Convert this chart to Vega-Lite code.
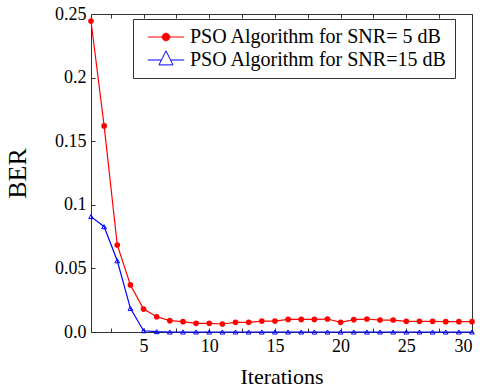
{
  "$schema": "https://vega.github.io/schema/vega-lite/v6.json",
  "autosize": {"type": "none"},
  "padding": {"left": 91, "top": 14, "right": 8, "bottom": 56},
  "width": 381,
  "height": 318,
  "background": "white",
  "config": {
    "view": {"stroke": "#333", "strokeWidth": 1},
    "font": "Liberation Serif",
    "axis": {
      "labelFont": "Liberation Serif",
      "labelFontSize": 18,
      "labelColor": "black",
      "titleFont": "Liberation Serif",
      "titleFontWeight": "normal",
      "titleColor": "black",
      "grid": false,
      "domainColor": "#333",
      "tickColor": "#333",
      "tickSize": -4,
      "labelPadding": 9
    },
    "legend": {"labelFont": "Liberation Serif"}
  },
  "data": {
    "values": [
      {"iteration": 1, "ber": 0.2445, "series": "PSO Algorithm for SNR= 5 dB"},
      {"iteration": 2, "ber": 0.162, "series": "PSO Algorithm for SNR= 5 dB"},
      {"iteration": 3, "ber": 0.0684, "series": "PSO Algorithm for SNR= 5 dB"},
      {"iteration": 4, "ber": 0.037, "series": "PSO Algorithm for SNR= 5 dB"},
      {"iteration": 5, "ber": 0.018, "series": "PSO Algorithm for SNR= 5 dB"},
      {"iteration": 6, "ber": 0.012, "series": "PSO Algorithm for SNR= 5 dB"},
      {"iteration": 7, "ber": 0.0089, "series": "PSO Algorithm for SNR= 5 dB"},
      {"iteration": 8, "ber": 0.0081, "series": "PSO Algorithm for SNR= 5 dB"},
      {"iteration": 9, "ber": 0.0068, "series": "PSO Algorithm for SNR= 5 dB"},
      {"iteration": 10, "ber": 0.0068, "series": "PSO Algorithm for SNR= 5 dB"},
      {"iteration": 11, "ber": 0.0063, "series": "PSO Algorithm for SNR= 5 dB"},
      {"iteration": 12, "ber": 0.0076, "series": "PSO Algorithm for SNR= 5 dB"},
      {"iteration": 13, "ber": 0.0076, "series": "PSO Algorithm for SNR= 5 dB"},
      {"iteration": 14, "ber": 0.0086, "series": "PSO Algorithm for SNR= 5 dB"},
      {"iteration": 15, "ber": 0.0086, "series": "PSO Algorithm for SNR= 5 dB"},
      {"iteration": 16, "ber": 0.0099, "series": "PSO Algorithm for SNR= 5 dB"},
      {"iteration": 17, "ber": 0.0099, "series": "PSO Algorithm for SNR= 5 dB"},
      {"iteration": 18, "ber": 0.0099, "series": "PSO Algorithm for SNR= 5 dB"},
      {"iteration": 19, "ber": 0.0102, "series": "PSO Algorithm for SNR= 5 dB"},
      {"iteration": 20, "ber": 0.0076, "series": "PSO Algorithm for SNR= 5 dB"},
      {"iteration": 21, "ber": 0.0097, "series": "PSO Algorithm for SNR= 5 dB"},
      {"iteration": 22, "ber": 0.0102, "series": "PSO Algorithm for SNR= 5 dB"},
      {"iteration": 23, "ber": 0.0094, "series": "PSO Algorithm for SNR= 5 dB"},
      {"iteration": 24, "ber": 0.0094, "series": "PSO Algorithm for SNR= 5 dB"},
      {"iteration": 25, "ber": 0.0084, "series": "PSO Algorithm for SNR= 5 dB"},
      {"iteration": 26, "ber": 0.0084, "series": "PSO Algorithm for SNR= 5 dB"},
      {"iteration": 27, "ber": 0.0084, "series": "PSO Algorithm for SNR= 5 dB"},
      {"iteration": 28, "ber": 0.0081, "series": "PSO Algorithm for SNR= 5 dB"},
      {"iteration": 29, "ber": 0.0081, "series": "PSO Algorithm for SNR= 5 dB"},
      {"iteration": 30, "ber": 0.0081, "series": "PSO Algorithm for SNR= 5 dB"},
      {"iteration": 1, "ber": 0.0907, "series": "PSO Algorithm for SNR=15 dB"},
      {"iteration": 2, "ber": 0.0828, "series": "PSO Algorithm for SNR=15 dB"},
      {"iteration": 3, "ber": 0.056, "series": "PSO Algorithm for SNR=15 dB"},
      {"iteration": 4, "ber": 0.0186, "series": "PSO Algorithm for SNR=15 dB"},
      {"iteration": 5, "ber": 0.001, "series": "PSO Algorithm for SNR=15 dB"},
      {"iteration": 6, "ber": 0.0003, "series": "PSO Algorithm for SNR=15 dB"},
      {"iteration": 7, "ber": 0, "series": "PSO Algorithm for SNR=15 dB"},
      {"iteration": 8, "ber": 0, "series": "PSO Algorithm for SNR=15 dB"},
      {"iteration": 9, "ber": 0, "series": "PSO Algorithm for SNR=15 dB"},
      {"iteration": 10, "ber": 0, "series": "PSO Algorithm for SNR=15 dB"},
      {"iteration": 11, "ber": 0, "series": "PSO Algorithm for SNR=15 dB"},
      {"iteration": 12, "ber": 0, "series": "PSO Algorithm for SNR=15 dB"},
      {"iteration": 13, "ber": 0, "series": "PSO Algorithm for SNR=15 dB"},
      {"iteration": 14, "ber": 0, "series": "PSO Algorithm for SNR=15 dB"},
      {"iteration": 15, "ber": 0, "series": "PSO Algorithm for SNR=15 dB"},
      {"iteration": 16, "ber": 0, "series": "PSO Algorithm for SNR=15 dB"},
      {"iteration": 17, "ber": 0, "series": "PSO Algorithm for SNR=15 dB"},
      {"iteration": 18, "ber": 0, "series": "PSO Algorithm for SNR=15 dB"},
      {"iteration": 19, "ber": 0, "series": "PSO Algorithm for SNR=15 dB"},
      {"iteration": 20, "ber": 0, "series": "PSO Algorithm for SNR=15 dB"},
      {"iteration": 21, "ber": 0, "series": "PSO Algorithm for SNR=15 dB"},
      {"iteration": 22, "ber": 0, "series": "PSO Algorithm for SNR=15 dB"},
      {"iteration": 23, "ber": 0, "series": "PSO Algorithm for SNR=15 dB"},
      {"iteration": 24, "ber": 0, "series": "PSO Algorithm for SNR=15 dB"},
      {"iteration": 25, "ber": 0, "series": "PSO Algorithm for SNR=15 dB"},
      {"iteration": 26, "ber": 0, "series": "PSO Algorithm for SNR=15 dB"},
      {"iteration": 27, "ber": 0, "series": "PSO Algorithm for SNR=15 dB"},
      {"iteration": 28, "ber": 0, "series": "PSO Algorithm for SNR=15 dB"},
      {"iteration": 29, "ber": 0, "series": "PSO Algorithm for SNR=15 dB"},
      {"iteration": 30, "ber": 0, "series": "PSO Algorithm for SNR=15 dB"}
    ]
  },
  "resolve": {"axis": {"x": "independent"}},
  "layer": [
    {
      "mark": {"type": "line", "strokeWidth": 1.2, "clip": false},
      "encoding": {
        "x": {
          "field": "iteration", "type": "quantitative",
          "scale": {"domain": [1, 30], "nice": false, "zero": false},
          "axis": {
            "title": "Iterations", "titleFontSize": 22, "titlePadding": 11,
            "values": [2.5, 5, 7.5, 10, 12.5, 15, 17.5, 20, 22.5, 25, 27.5, 30],
            "labelExpr": "datum.value % 5 == 0 ? format(datum.value, 'd') : ''"
          }
        },
        "y": {
          "field": "ber", "type": "quantitative",
          "scale": {"domain": [0, 0.25], "nice": false},
          "axis": {
            "title": "BER", "titleFontSize": 26, "titlePadding": 24,
            "values": [0, 0.05, 0.1, 0.15, 0.2, 0.25],
            "labelExpr": "datum.value == 0 ? '0.0' : format(datum.value, '~g')"
          }
        },
        "color": {
          "field": "series", "type": "nominal",
          "scale": {"domain": ["PSO Algorithm for SNR= 5 dB", "PSO Algorithm for SNR=15 dB"], "range": ["#ff0000", "#0000ff"]},
          "legend": {
            "title": null,
            "orient": "none",
            "legendX": 42,
            "legendY": 5,
            "strokeColor": "#333",
            "fillColor": "white",
            "padding": 8,
            "labelFont": "Liberation Serif",
            "labelFontSize": 20,
            "labelColor": "black",
            "labelLimit": 1000,
            "symbolSize": 196,
            "symbolOffset": 15,
            "labelOffset": 14,
            "rowPadding": 1,
            "encode": {
              "legend": {
                "update": {
                  "width": {"value": 319}
                }
              },
              "symbols": {
                "update": {
                  "shape": {"signal": "datum.value === 'PSO Algorithm for SNR= 5 dB' ? 'M-2.6,0H2.6M0.55,0A0.55,0.55 0 1 1 -0.55,0A0.55,0.55 0 1 1 0.55,0Z' : 'M-2.6,0H-0.65M0.65,0H2.6M0,-1.3L1,0.7L-1,0.7Z'"},
                  "fill": {"signal": "datum.value === 'PSO Algorithm for SNR= 5 dB' ? '#ff0000' : 'transparent'"},
                  "stroke": {"signal": "datum.value === 'PSO Algorithm for SNR= 5 dB' ? '#ff0000' : '#0000ff'"},
                  "strokeWidth": {"value": 1},
                  "opacity": {"value": 1}
                }
              }
            }
          }
        }
      }
    },
    {
      "transform": [{"filter": "datum.series === 'PSO Algorithm for SNR= 5 dB'"}],
      "mark": {"type": "circle", "size": 32, "color": "#ff0000", "opacity": 1, "clip": false},
      "encoding": {
        "x": {
          "field": "iteration", "type": "quantitative",
          "axis": {
            "orient": "top", "title": null, "labels": false,
            "values": [2.5, 5, 7.5, 10, 12.5, 15, 17.5, 20, 22.5, 25, 27.5, 30]
          }
        },
        "y": {
          "field": "ber", "type": "quantitative",
          "axis": {
            "title": "BER", "titleFontSize": 26, "titlePadding": 24,
            "values": [0, 0.05, 0.1, 0.15, 0.2, 0.25],
            "labelExpr": "datum.value == 0 ? '0.0' : format(datum.value, '~g')"
          }
        }
      }
    },
    {
      "transform": [{"filter": "datum.series === 'PSO Algorithm for SNR=15 dB'"}],
      "mark": {"type": "point", "shape": "triangle-up", "size": 22, "filled": false, "color": "#0000ff", "strokeWidth": 1, "opacity": 1, "clip": false},
      "encoding": {
        "x": {"field": "iteration", "type": "quantitative", "axis": null},
        "y": {
          "field": "ber", "type": "quantitative",
          "axis": {
            "title": "BER", "titleFontSize": 26, "titlePadding": 24,
            "values": [0, 0.05, 0.1, 0.15, 0.2, 0.25],
            "labelExpr": "datum.value == 0 ? '0.0' : format(datum.value, '~g')"
          }
        }
      }
    }
  ]
}
